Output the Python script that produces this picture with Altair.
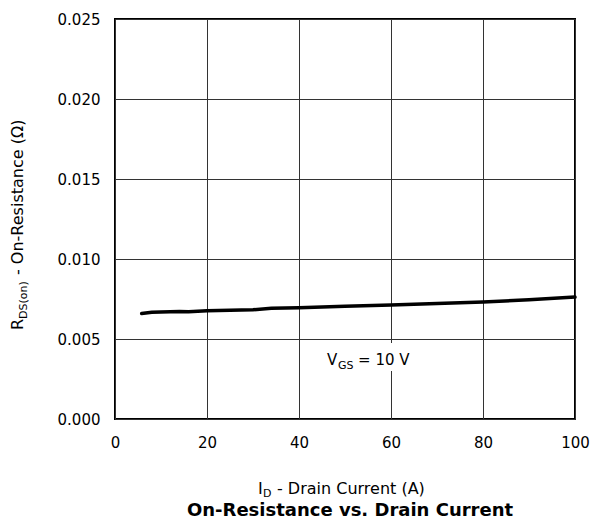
import altair as alt
import pandas as pd

# Series: I_D (A) vs R_DS(on) (ohm)
id_amps = [5.8, 8, 12, 14, 16, 20, 25, 30, 34, 40, 50, 60, 70, 80, 90, 100]
rds_on = [0.00659, 0.00667, 0.00670, 0.00672, 0.00670, 0.00677, 0.00680, 0.00683,
          0.00692, 0.00696, 0.00704, 0.00713, 0.00722, 0.00732, 0.00745, 0.00762]

x_ticks = [0, 20, 40, 60, 80, 100]
y_ticks = [0.000, 0.005, 0.010, 0.015, 0.020, 0.025]

title_text = "On-Resistance vs. Drain Current"
x_title_main, x_title_sub, x_title_rest = "I", "D", "- Drain Current (A)"
y_title_main, y_title_sub, y_title_rest = "R", "DS(on)", "- On-Resistance (Ω)"
ann_main, ann_sub, ann_rest = "V", "GS", "= 10 V"
ann_x, ann_y = 46.1, 0.003375

FONT = "DejaVu Sans"
W, H = 460, 400

df = pd.DataFrame({"id": id_amps, "rds": rds_on})

xscale = alt.Scale(domain=[0, 100], nice=False, zero=False)
yscale = alt.Scale(domain=[0, 0.025], nice=False)

xaxis = alt.Axis(values=x_ticks, title=None, grid=True, domain=False, ticks=False,
                 labelFont=FONT, labelFontSize=15, labelColor="black", labelPadding=16,
                 labelFlush=False, gridColor="#333333", gridWidth=1, gridOpacity=1)
yaxis = alt.Axis(values=y_ticks, title=None, grid=True, domain=False, ticks=False,
                 format=".3f", labelFont=FONT, labelFontSize=15, labelColor="black",
                 labelPadding=15, labelFlush=False, gridColor="#333333", gridWidth=1,
                 gridOpacity=1)

line = alt.Chart(df).mark_line(color="black", strokeWidth=3.5, strokeCap="round").encode(
    x=alt.X("id:Q", scale=xscale, axis=xaxis),
    y=alt.Y("rds:Q", scale=yscale, axis=yaxis),
)

# white box behind the V_GS label
box_df = pd.DataFrame({"x1": [45.0], "x2": [64.8], "y1": [0.0030], "y2": [0.00475]})
box = alt.Chart(box_df).mark_rect(color="white").encode(
    x=alt.X("x1:Q", scale=xscale), x2="x2:Q",
    y=alt.Y("y1:Q", scale=yscale), y2="y2:Q",
)

ann_df = pd.DataFrame({"x": [ann_x], "y": [ann_y]})


def ann_piece(txt, size, dx, dy):
    return alt.Chart(ann_df).mark_text(
        font=FONT, fontSize=size, color="black", align="left", baseline="alphabetic",
        dx=dx, dy=dy,
    ).encode(
        x=alt.X("x:Q", scale=xscale), y=alt.Y("y:Q", scale=yscale), text=alt.value(txt)
    )


ann = ann_piece(ann_main, 15, 0, 0) + ann_piece(ann_sub, 11, 11, 4) + ann_piece(ann_rest, 15, 31, 0)


def px_text(txt, x, y, size, angle=0, bold=False, align="left"):
    kw = dict(font=FONT, fontSize=size, color="black", align=align, baseline="alphabetic")
    if angle:
        kw["angle"] = angle
    if bold:
        kw["fontWeight"] = "bold"
    return alt.Chart(pd.DataFrame({"t": [txt]})).mark_text(**kw).encode(
        x=alt.value(x), y=alt.value(y), text="t:N"
    )


# x axis title (pixel positions relative to the plot origin)
xt = (px_text(x_title_main, 143, 475, 16)
      + px_text(x_title_sub, 148, 478, 11)
      + px_text(x_title_rest, 162, 475, 16))

# y axis title, rotated
yt = (px_text(y_title_main, -92, 311, 16, angle=270)
      + px_text(y_title_sub, -88, 300, 11, angle=270)
      + px_text(y_title_rest, -92, 256, 16, angle=270))

title = px_text(title_text, 235, 497, 18, bold=True, align="center")

chart = alt.layer(line, box, ann, xt, yt, title).properties(
    width=W, height=H,
    autosize=alt.AutoSizeParams(type="none"),
    padding={"left": 115, "top": 19, "right": 16, "bottom": 110},
    background="white",
).configure_view(stroke="black", strokeWidth=2)

chart.save("out.html", embed_options={"renderer": "svg", "actions": False})
